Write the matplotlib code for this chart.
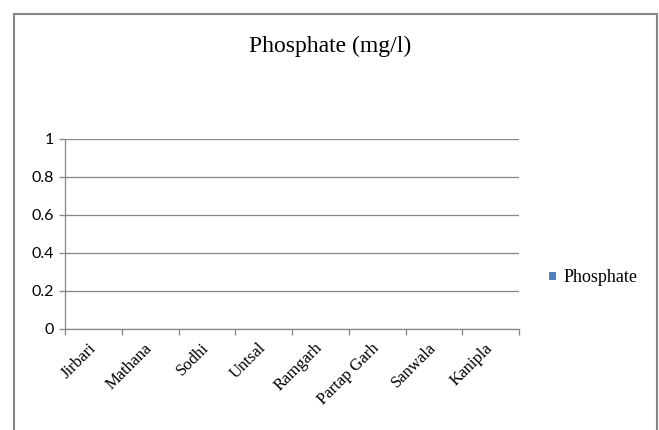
import matplotlib
matplotlib.use('Agg')
import matplotlib.pyplot as plt
from matplotlib.patches import Rectangle

sites = ['Jirbari', 'Mathana', 'Sodhi', 'Untsal', 'Ramgarh', 'Partap Garh', 'Sanwala', 'Kanipla']
phosphate = [0, 0, 0, 0, 0, 0, 0, 0]
yticks = [0, 0.2, 0.4, 0.6, 0.8, 1]

W, H = 659, 430
grey = '#868686'
fig = plt.figure(figsize=(W / 100, H / 100), dpi=100, facecolor='white')

# outer chart border (open at the bottom, as in the cropped original)
fig.patches.append(Rectangle((13.5 / W, -0.1), (657 - 13.5) / W, (H - 13.5) / H + 0.1,
                             transform=fig.transFigure, fill=False,
                             edgecolor=grey, linewidth=1.5))

ax = fig.add_axes([65 / W, (H - 329) / H, (519 - 65) / W, (329 - 139) / H])
x = range(len(sites))
ax.bar(x, phosphate, width=0.6, color='#4F81BD', label='Phosphate')

ax.set_ylim(0, 1)
ax.set_xlim(-0.5, len(sites) - 0.5)
ax.set_yticks(yticks)
ax.set_yticklabels(['0', '0.2', '0.4', '0.6', '0.8', '1'], family='Lato', fontsize=11.5)
ax.yaxis.grid(True, color=grey, linewidth=0.9)
ax.set_axisbelow(True)

# category boundary ticks, labels centred between them
ax.set_xticks([i - 0.5 for i in range(len(sites) + 1)])
ax.set_xticklabels([])
ax.set_xticks(list(x), minor=True)
ax.set_xticklabels(sites, minor=True, rotation=45, ha='right', va='center',
                   rotation_mode='anchor', family='Liberation Serif', fontsize=12)
ax.tick_params(axis='x', which='minor', length=0, pad=12)
ax.tick_params(axis='x', which='major', length=4, color=grey, width=0.9)
ax.tick_params(axis='y', length=4, color=grey, width=0.9, pad=4)

for s in ['top', 'right']:
    ax.spines[s].set_visible(False)
for s in ['left', 'bottom']:
    ax.spines[s].set_color(grey)
    ax.spines[s].set_linewidth(0.9)

fig.text(330 / W, 1 - 46 / H, 'Phosphate (mg/l)', ha='center', va='center',
         family='Liberation Serif', fontsize=17)

fig.legend(loc='center left', bbox_to_anchor=(533 / W, 1 - 278 / H), frameon=False,
           prop={'family': 'Liberation Serif', 'size': 13},
           handlelength=0.38, handleheight=0.38, handletextpad=0.4)

fig.savefig('out.png', dpi=100)
